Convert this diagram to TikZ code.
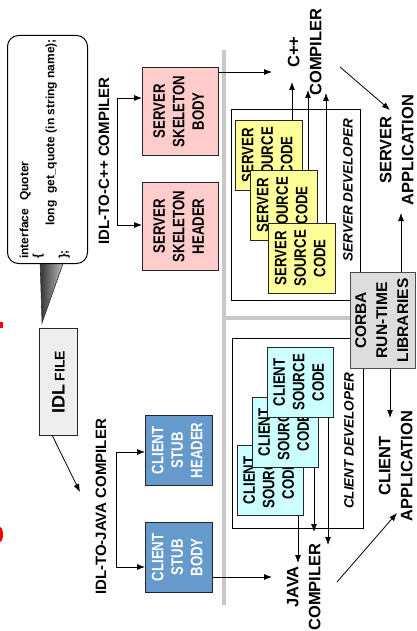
\documentclass[tikz,border=0pt]{standalone}
\usepackage{fontspec}
\setmainfont{Liberation Sans}
\newfontfamily\nf{Liberation Sans}[FakeStretch=0.8]
\usetikzlibrary{arrows.meta}
\definecolor{pinkfill}{HTML}{FFCCCC}
\definecolor{bluefill}{HTML}{6699CC}
\definecolor{yelfill}{HTML}{FFFF99}
\definecolor{cyanfill}{HTML}{CCFFFF}
\definecolor{corbafill}{HTML}{DDDDDD}
\definecolor{idlfill}{HTML}{EEEEEE}
\definecolor{sepgray}{HTML}{C8C8C8}
\newcommand{\rt}[1]{\rotatebox{90}{#1}}
\newcommand{\tl}[1]{\begin{tabular}{@{}c@{}}#1\end{tabular}}
\begin{document}
\begin{tikzpicture}[x=1pt,y=-1pt,
  arr/.style={-{Latex[length=8pt,width=6pt]}, line width=0.8pt, black},
  plain/.style={line width=0.8pt, black},
  fbox/.style={draw=black!85, line width=0.8pt, inner sep=0pt, anchor=north west,
    font=\nf\bfseries\fontsize{16.5}{19.5}\selectfont},
  skel/.style={fbox, fill=pinkfill},
  stub/.style={fbox, fill=bluefill, text=white},
  ssrc/.style={fbox, fill=yelfill, minimum width=67, minimum height=70},
  csrc/.style={fbox, fill=cyanfill, minimum width=66, minimum height=70},
  devbox/.style={draw=black, line width=0.8pt, inner sep=0pt, anchor=north west},
  lbl/.style={inner sep=0pt, font=\bfseries\fontsize{16.5}{22}\selectfont},
  devlbl/.style={inner sep=0pt, font=\bfseries\itshape\fontsize{13.5}{16}\selectfont},
  complbl/.style={inner sep=0pt, font=\bfseries\fontsize{15}{18}\selectfont},
  sep/.style={draw=sepgray, line width=3.5pt},
]
\useasboundingbox (0,0) rectangle (416,631);
\fill[white] (0,0) rectangle (416,631);

% red fragments at left edge
\fill[red] (0,322) rectangle (3,328);
\fill[red] (0,527) .. controls (4,528) and (4,541) .. (0,542) -- cycle;

% speech bubble with tail
\coordinate (tailL) at (40,258);
\coordinate (tailT) at (42,323);
\coordinate (tailR) at (65,258);
\draw[left color=black!80, right color=black!20, draw=black!80, line width=0.6pt]
  (tailL) -- (tailT) -- (tailR) -- cycle;
\node[draw=black, line width=1pt, rounded corners=11pt, fill=white, inner sep=0pt,
  minimum width=80, minimum height=228, anchor=north west] (bubble) at (7,35) {};
\node[anchor=south west, inner sep=0pt, font=\bfseries\fontsize{12}{13}\selectfont] (code) at (19,259)
  {\rt{\begin{tabular}{@{}l@{}}interface\hspace{8pt}Quoter\\\{\\\hspace*{33pt}long~~get\_quote (in string name);\\\};\end{tabular}}};

% IDL file
\node[draw=black!85, line width=0.8pt, inner sep=0pt, anchor=north west, fill=idlfill,
  minimum width=38, minimum height=107, font=\bfseries] (idl) at (39,328)
  {\rt{\fontsize{18}{18}\selectfont IDL\,\fontsize{14}{14}\selectfont FILE}};

% compiler labels
\node[complbl] (idlcpp) at (104,161) {\rt{IDL-TO-C++ COMPILER}};
\node[complbl] (idljava) at (101,507) {\rt{IDL-TO-JAVA COMPILER}};
\coordinate (javatip) at (80,492);
\draw[arr] ([xshift=-6pt]idl.south) -- (javatip);

% generated boxes
\node[skel, minimum width=76, minimum height=88] (sbody) at (142,67) {\rt{\tl{SERVER\\SKELETON\\BODY}}};
\node[skel, minimum width=76, minimum height=88] (shead) at (142,182) {\rt{\tl{SERVER\\SKELETON\\HEADER}}};
\node[stub, minimum width=67, minimum height=70] (chead) at (145,415) {\rt{\tl{CLIENT\\STUB\\HEADER}}};
\node[stub, minimum width=67, minimum height=70] (cbody) at (145,522) {\rt{\tl{CLIENT\\STUB\\BODY}}};

% brackets
\coordinate (cb1) at (117,98);
\coordinate (cb2) at (117,225);
\draw[plain] (cb1) -- (cb2);
\draw[arr] (cb1) -- (cb1 -| sbody.west);
\draw[arr] (cb2) -- (cb2 -| shead.west);
\coordinate (jb1) at (116,452);
\coordinate (jb2) at (116,567);
\draw[plain] (jb1) -- (jb2);
\draw[arr] (jb1) -- (jb1 -| chead.west);
\draw[arr] (jb2) -- (jb2 -| cbody.west);

% developer areas
\node[devbox, minimum width=129, minimum height=191] (sdev) at (231,109) {};
\node[devbox, minimum width=131, minimum height=190] (cdev) at (232,338) {};
\node[devlbl] (sdevl) at (348,190) {\rt{SERVER DEVELOPER}};
\node[devlbl] (cdevl) at (349,441) {\rt{CLIENT DEVELOPER}};

% server source code boxes
\node[ssrc] (sc1) at (235,120) {\rt{\tl{SERVER\\SOURCE\\CODE}}};
\node[ssrc] (sc2) at (250,170) {\rt{\tl{SERVER\\SOURCE\\CODE}}};
\node[ssrc] (sc3) at (268,223) {\rt{\tl{SERVER\\SOURCE\\CODE}}};

% client source code boxes
\node[csrc] (cc1) at (237,445) {\rt{\tl{CLIENT\\SOURCE\\CODE}}};
\node[csrc] (cc2) at (252,397) {\rt{\tl{CLIENT\\SOURCE\\CODE}}};
\node[csrc] (cc3) at (267,347) {\rt{\tl{CLIENT\\SOURCE\\CODE}}};

% CORBA libraries
\node[draw=black!70, line width=0.8pt, fill=corbafill, inner sep=0pt, anchor=north west,
  minimum width=65, minimum height=96, font=\bfseries\fontsize{15.5}{21}\selectfont] (corba) at (350,272)
  {\rt{\tl{CORBA\\RUN-TIME\\LIBRARIES}}};

% separators
\coordinate (g1) at (224,50);
\coordinate (g2) at (224,605);
\coordinate (g3) at (224,318);
\draw[sep] (g1) -- (g2);
\draw[sep] (g3) -- (g3 -| corba.west);

% compilers and applications
\node[lbl] (cpp) at (306,52) {\rt{\tl{C++\\COMPILER}}};
\node[lbl] (javac) at (305,587) {\rt{\tl{JAVA\\COMPILER}}};
\node[lbl] (sapp) at (398,150) {\rt{\tl{SERVER\\APPLICATION}}};
\node[lbl] (capp) at (397,466) {\rt{\tl{CLIENT\\APPLICATION}}};

% arrows to compilers
\coordinate (cppin) at (272,72);
\coordinate (javain) at (272,577);
\draw[arr] ([yshift=-5pt]sbody.north east) -- (cppin);
\draw[arr] ([yshift=-55pt]cbody.north east) -- (javain);

\coordinate (st1) at (292,82);
\coordinate (st2) at (308,90);
\coordinate (st3) at (326,93);
\draw[arr] (st1 |- sc1.north) -- (st1);
\draw[arr] (st2 |- sc2.north) -- (st2);
\draw[arr] (st3 |- sc3.north) -- (st3);

\coordinate (ct1) at (298,563);
\coordinate (ct2) at (314,532);
\coordinate (ct3) at (328,545);
\draw[arr] (ct1 |- cc1.south) -- (ct1);
\draw[arr] (ct2 |- cc2.south) -- (ct2);
\draw[arr] (ct3 |- cc3.south) -- (ct3);

% compilers to applications
\coordinate (cppout) at (340,67);
\coordinate (sappin) at (390,110);
\coordinate (javaout) at (337,582);
\coordinate (cappin) at (397,513);
\draw[arr] (cppout) -- (sappin);
\draw[arr] (javaout) -- (cappin);

% libraries to applications
\coordinate (sappl) at (401,213);
\coordinate (cappl) at (390,418);
\draw[arr] (sappl |- corba.north) -- (sappl);
\draw[arr] (cappl |- corba.south) -- (cappl);
\end{tikzpicture}
\end{document}
